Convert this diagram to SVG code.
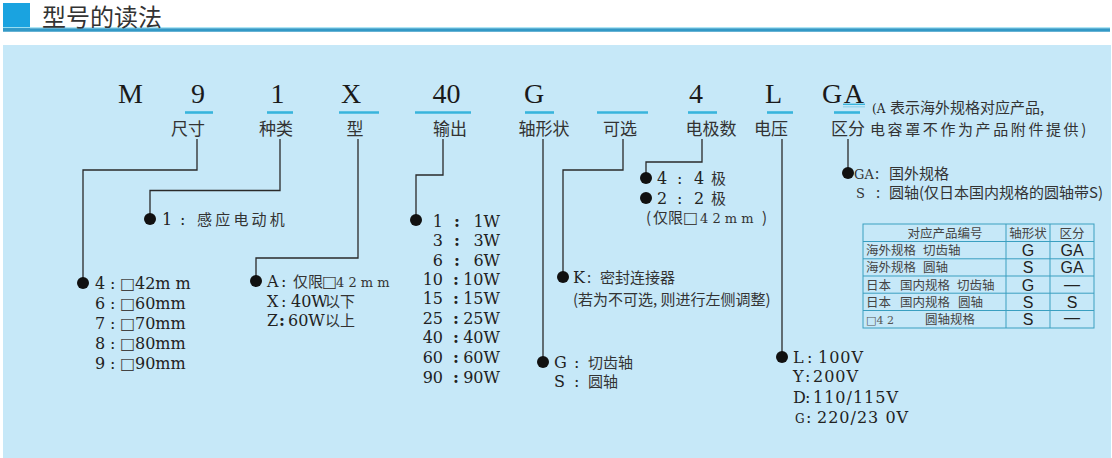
<svg xmlns="http://www.w3.org/2000/svg" width="1112" height="458" viewBox="0 0 1112 458">
<style>
.ln{stroke:#2a2a2a;stroke-width:1.3;fill:none}
.ul{stroke:#38b4dc;stroke-width:2.6}
.dot{fill:#111}
.code{font-family:"Liberation Serif",serif;font-size:28px;fill:#1a1a1a;text-anchor:middle}
.lab{font-family:"Noto Sans CJK SC",sans-serif;font-size:17px;fill:#333;text-anchor:middle}
.cn{font-family:"Noto Sans CJK SC",sans-serif;font-size:15px;fill:#333}
.num{font-family:"DejaVu Serif",serif;font-size:16px;fill:#222}
.sm{font-family:"DejaVu Serif",serif;font-size:13px;fill:#333}
.sq{font-family:"DejaVu Sans",sans-serif;font-size:16px;fill:#444}
.r{text-anchor:end}
.m{text-anchor:middle}
.tb{stroke:#3a9fc0;stroke-width:1;fill:none}
.tc{font-family:"Noto Sans CJK SC",sans-serif;font-size:12.5px;fill:#444}
.ts{font-family:"Liberation Sans",sans-serif;font-size:16px;fill:#222;text-anchor:middle}
</style>

<!-- header -->
<g id="header">
<rect x="3" y="3" width="27" height="27" fill="#1aa3e0"/>
<line x1="3" y1="27.6" x2="1110" y2="27.6" stroke="#a6e4f4" stroke-width="1"/>
<line x1="3" y1="30" x2="1110" y2="30" stroke="#3399c6" stroke-width="3.4"/>
<text x="42" y="26" font-family="Noto Sans CJK SC,sans-serif" font-size="24" fill="#333">型号的读法</text>
</g>

<rect id="panel" x="3" y="45" width="1108" height="413" fill="#c6e8f8"/>

<!-- connectors -->
<g id="connectors">
<path class="ln" d="M197,139 V170 H83 V283"/>
<path class="ln" d="M280,139 V190.5 H150 V219"/>
<path class="ln" d="M358,139 V258 H256 V281"/>
<path class="ln" d="M443,139 V175 H416 V220"/>
<path class="ln" d="M543,139 V362"/>
<path class="ln" d="M623,139 V170 H563 V277"/>
<path class="ln" d="M702,139 V162 H646 V178"/>
<path class="ln" d="M782,139 V357"/>
<path class="ln" d="M848,139 V173"/>
</g>

<!-- code row -->
<g id="code-M"><text class="code" x="130.5" y="103">M</text></g>
<g id="code-size"><text class="code" x="198" y="103">9</text><line class="ul" x1="185" y1="112.5" x2="213" y2="112.5"/><text class="lab" x="188" y="135">尺寸</text></g>
<g id="code-kind"><text class="code" x="277.5" y="103">1</text><line class="ul" x1="267" y1="112.5" x2="293" y2="112.5"/><text class="lab" x="276" y="135">种类</text></g>
<g id="code-type"><text class="code" x="351" y="103">X</text><line class="ul" x1="339" y1="112.5" x2="379" y2="112.5"/><text class="lab" x="355" y="135">型</text></g>
<g id="code-output"><text class="code" x="446.5" y="103">40</text><line class="ul" x1="415" y1="112.5" x2="471" y2="112.5"/><text class="lab" x="450" y="135">输出</text></g>
<g id="code-shaft"><text class="code" x="534" y="103">G</text><line class="ul" x1="525" y1="112.5" x2="554" y2="112.5"/><text class="lab" x="544" y="135">轴形状</text></g>
<g id="code-option"><line class="ul" x1="597" y1="112.5" x2="648" y2="112.5"/><text class="lab" x="620" y="135">可选</text></g>
<g id="code-poles"><text class="code" x="696" y="103">4</text><line class="ul" x1="688" y1="112.5" x2="717" y2="112.5"/><text class="lab" x="711" y="135">电极数</text></g>
<g id="code-voltage"><text class="code" x="773.5" y="103">L</text><line class="ul" x1="767" y1="112.5" x2="793" y2="112.5"/><text class="lab" x="771" y="135">电压</text></g>
<g id="code-class">
<text class="code" x="822" y="103" style="text-anchor:start" letter-spacing="1.5">GA</text>
<line x1="843" y1="104.3" x2="865" y2="104.3" stroke="#38b4dc" stroke-width="1.4"/>
<line x1="843" y1="106.8" x2="865" y2="106.8" stroke="#8fd4ee" stroke-width="1.2"/>
<line class="ul" x1="834" y1="112.5" x2="860" y2="112.5"/>
<text class="lab" x="848" y="135">区分</text>
<text x="872" y="113" font-family="DejaVu Serif,serif" font-size="12" fill="#222">(A</text>
<text class="cn" x="890" y="113" font-size="14">表示海外规格对应产品,</text>
<text class="cn" x="870" y="135" font-size="14" letter-spacing="2.6">电容罩不作为产品附件提供)</text>
</g>

<!-- size -->
<g id="opt-size">
<circle class="dot" cx="83" cy="283" r="6"/>
<text class="num" y="289"><tspan x="95">4</tspan><tspan x="110">:</tspan><tspan class="sq" x="120">□</tspan><tspan x="135">42m m</tspan></text>
<text class="num" y="309"><tspan x="95">6</tspan><tspan x="110">:</tspan><tspan class="sq" x="120">□</tspan><tspan x="135">60mm</tspan></text>
<text class="num" y="329"><tspan x="95">7</tspan><tspan x="110">:</tspan><tspan class="sq" x="120">□</tspan><tspan x="135">70mm</tspan></text>
<text class="num" y="349"><tspan x="95">8</tspan><tspan x="110">:</tspan><tspan class="sq" x="120">□</tspan><tspan x="135">80mm</tspan></text>
<text class="num" y="369"><tspan x="95">9</tspan><tspan x="110">:</tspan><tspan class="sq" x="120">□</tspan><tspan x="135">90mm</tspan></text>
</g>

<!-- kind -->
<g id="opt-kind">
<circle class="dot" cx="150" cy="219" r="6"/>
<text class="num" x="162" y="225" font-size="15">1</text>
<text class="num" x="180" y="225" font-size="15">:</text>
<text class="cn" x="197" y="225" letter-spacing="3.2">感应电动机</text>
</g>

<!-- type -->
<g id="opt-type">
<circle class="dot" cx="256" cy="281" r="6"/>
<text class="num" x="267" y="287" font-size="15">A</text><text class="num" x="281" y="287" font-size="15">:</text>
<text class="cn" x="293" y="287">仅限</text><text class="sq" x="322" y="287">□</text><text class="sm" x="336" y="287">4 2 m m</text>
<text class="num" x="267" y="307" font-size="15">X</text><text class="num" x="281" y="307" font-size="15">:</text>
<text class="num" x="291" y="307" font-size="15">40W</text><text class="cn" x="325" y="307">以下</text>
<text class="num" x="267" y="326" font-size="15">Z</text><text class="num" x="279" y="326" font-size="15" font-weight="bold">:</text>
<text class="num" x="288" y="326" font-size="15">60W</text><text class="cn" x="325" y="326">以上</text>
</g>

<!-- output -->
<g id="opt-output">
<circle class="dot" cx="416" cy="220" r="6"/>
<text class="num r" x="443" y="227">1</text><text class="num m" x="457" y="227" font-weight="bold">:</text><text class="num r" x="500" y="227">1W</text>
<text class="num r" x="443" y="246">3</text><text class="num m" x="457" y="246" font-weight="bold">:</text><text class="num r" x="500" y="246">3W</text>
<text class="num r" x="443" y="266">6</text><text class="num m" x="457" y="266" font-weight="bold">:</text><text class="num r" x="500" y="266">6W</text>
<text class="num r" x="443" y="285">10</text><text class="num m" x="456" y="285" font-weight="bold">:</text><text class="num r" x="500" y="285">10W</text>
<text class="num r" x="443" y="304">15</text><text class="num m" x="456" y="304" font-weight="bold">:</text><text class="num r" x="500" y="304">15W</text>
<text class="num r" x="443" y="324">25</text><text class="num m" x="456" y="324" font-weight="bold">:</text><text class="num r" x="500" y="324">25W</text>
<text class="num r" x="443" y="343">40</text><text class="num m" x="456" y="343" font-weight="bold">:</text><text class="num r" x="500" y="343">40W</text>
<text class="num r" x="443" y="363">60</text><text class="num m" x="456" y="363" font-weight="bold">:</text><text class="num r" x="500" y="363">60W</text>
<text class="num r" x="443" y="383">90</text><text class="num m" x="456" y="383" font-weight="bold">:</text><text class="num r" x="500" y="383">90W</text>
</g>

<!-- shaft -->
<g id="opt-shaft">
<circle class="dot" cx="543" cy="362" r="6"/>
<text class="num" x="554" y="368" font-size="14">G</text><text class="num" x="574" y="368" font-size="14">:</text><text class="cn" x="588" y="368">切齿轴</text>
<text class="num" x="554" y="387" font-size="14">S</text><text class="num" x="574" y="387" font-size="14">:</text><text class="cn" x="588" y="387">圆轴</text>
</g>

<!-- option -->
<g id="opt-option">
<circle class="dot" cx="563" cy="277" r="6"/>
<text class="num" x="573" y="283" font-size="14">K</text><text class="cn" x="587" y="283">:</text>
<text class="cn" x="600" y="283">密封连接器</text>
<text class="cn" x="573" y="305">(若为不可选, 则进行左侧调整)</text>
</g>

<!-- poles -->
<g id="opt-poles">
<circle class="dot" cx="646" cy="178" r="6"/>
<text class="num" x="657" y="184" font-size="14">4</text><text class="num" x="677" y="184" font-size="14">:</text><text class="num" x="694" y="184" font-size="14">4</text><text class="cn" x="711" y="184">极</text>
<circle class="dot" cx="646" cy="198" r="6"/>
<text class="num" x="657" y="204" font-size="14">2</text><text class="num" x="677" y="204" font-size="14">:</text><text class="num" x="694" y="204" font-size="14">2</text><text class="cn" x="711" y="204">极</text>
<text class="cn" x="646" y="223">(</text><text class="cn" x="653" y="223">仅限</text><text class="sq" x="683" y="223">□</text><text class="sm" x="700" y="223">4 2 m m</text><text class="cn" x="762" y="223">)</text>
</g>

<!-- voltage -->
<g id="opt-voltage">
<circle class="dot" cx="782" cy="357" r="6"/>
<text class="num" font-size="16.5" letter-spacing="1" y="363"><tspan x="793">L</tspan><tspan x="807">:</tspan><tspan x="818">100V</tspan></text>
<text class="num" font-size="16.5" letter-spacing="1" y="382"><tspan x="793">Y</tspan><tspan x="805">:</tspan><tspan x="813">200V</tspan></text>
<text class="num" font-size="16.5" letter-spacing="1" y="403"><tspan x="793">D</tspan><tspan x="805">:</tspan><tspan x="813">110/115V</tspan></text>
<text class="num" font-size="16.5" letter-spacing="1" y="423"><tspan x="795" font-size="12">G</tspan><tspan x="806">:</tspan><tspan x="817">220/23 0V</tspan></text>
</g>

<!-- class -->
<g id="opt-class">
<circle class="dot" cx="848" cy="173" r="6"/>
<text class="sm" x="854" y="179">GA</text><text class="cn" x="875" y="179">:</text><text class="cn" x="889" y="179">国外规格</text>
<text class="sm" x="856" y="198">S</text><text class="cn" x="876" y="198">:</text><text class="cn" x="889" y="198" font-size="14.5">圆轴(仅日本国内规格的圆轴带S)</text>
</g>

<!-- table -->
<g id="table">
<rect class="tb" x="863" y="224" width="231" height="104"/>
<path class="tb" d="M863,241.5 H1094 M863,258.8 H1094 M863,276 H1094 M863,293.2 H1094 M863,310.5 H1094 M1006,224 V328 M1050,224 V328"/>
<text class="tc m" x="945" y="238">对应产品编号</text>
<text class="tc m" x="1028" y="238">轴形状</text>
<text class="tc m" x="1072" y="238">区分</text>
<text class="tc" x="866" y="255">海外规格</text><text class="tc" x="923" y="255">切齿轴</text>
<text class="ts" x="1028" y="256">G</text><text class="ts" x="1072" y="256">GA</text>
<text class="tc" x="866" y="272">海外规格</text><text class="tc" x="923" y="272">圆轴</text>
<text class="ts" x="1028" y="273">S</text><text class="ts" x="1072" y="273">GA</text>
<text class="tc" x="866" y="289.5">日本</text><text class="tc" x="900" y="289.5">国内规格</text><text class="tc" x="957" y="289.5">切齿轴</text>
<text class="ts" x="1028" y="291">G</text><text class="ts" x="1072" y="290" fill="#999" font-size="13">—</text>
<text class="tc" x="866" y="307">日本</text><text class="tc" x="900" y="307">国内规格</text><text class="tc" x="958" y="307">圆轴</text>
<text class="ts" x="1028" y="308">S</text><text class="ts" x="1072" y="308">S</text>
<text x="866" y="324" font-family="DejaVu Serif,serif" font-size="11" fill="#555">□4 2</text><text class="tc" x="925" y="324">圆轴规格</text>
<text class="ts" x="1028" y="325">S</text><text class="ts" x="1072" y="323" font-size="14">—</text>
</g>
</svg>
